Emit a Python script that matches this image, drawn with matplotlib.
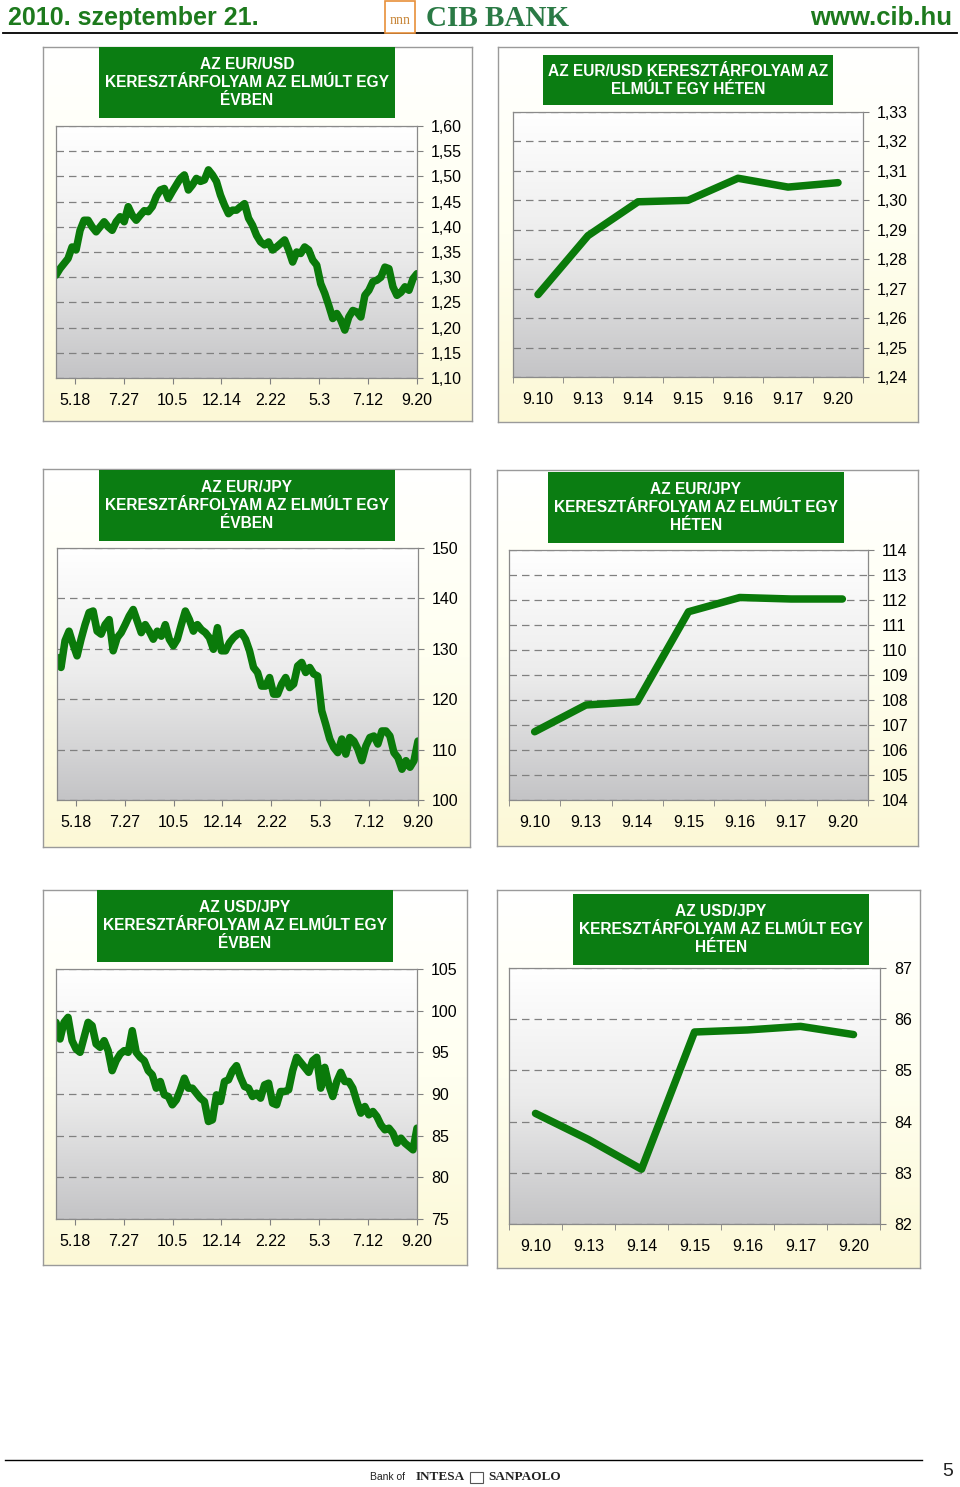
import numpy as np
import pandas as pd
import matplotlib
matplotlib.use("Agg")
import matplotlib.pyplot as plt
from matplotlib.patches import Rectangle
from matplotlib.colors import LinearSegmentedColormap

# ---------------- DATA ----------------
year_tick_dates = ["2009-05-18", "2009-07-27", "2009-10-05", "2009-12-14",
                   "2010-02-22", "2010-05-03", "2010-07-12", "2010-09-20"]
year_tick_labels = ["5.18", "7.27", "10.5", "12.14", "2.22", "5.3", "7.12", "9.20"]
year_start, year_end = "2009-04-21", "2010-09-20"

week_labels = ["9.10", "9.13", "9.14", "9.15", "9.16", "9.17", "9.20"]

eurusd_year = [1.304, 1.317, 1.327, 1.337, 1.360, 1.354, 1.393, 1.413, 1.413, 1.400,
               1.390, 1.400, 1.410, 1.400, 1.393, 1.410, 1.420, 1.410, 1.440, 1.423,
               1.413, 1.423, 1.432, 1.430, 1.440, 1.460, 1.473, 1.476, 1.456, 1.470,
               1.483, 1.496, 1.503, 1.473, 1.483, 1.496, 1.490, 1.493, 1.513, 1.503,
               1.490, 1.463, 1.443, 1.426, 1.433, 1.433, 1.440, 1.446, 1.417, 1.403,
               1.383, 1.370, 1.364, 1.370, 1.354, 1.360, 1.367, 1.374, 1.354, 1.330,
               1.350, 1.347, 1.360, 1.354, 1.334, 1.324, 1.287, 1.268, 1.244, 1.218,
               1.228, 1.215, 1.195, 1.221, 1.234, 1.231, 1.221, 1.264, 1.274, 1.291,
               1.294, 1.300, 1.320, 1.317, 1.281, 1.264, 1.270, 1.281, 1.274, 1.297,
               1.307]

eurjpy_year = [128.3, 126.3, 131.6, 133.5, 130.9, 128.6, 131.9, 134.8, 137.2, 137.5,
               133.5, 132.9, 134.8, 135.8, 129.6, 132.2, 133.2, 134.8, 136.5, 137.8,
               135.5, 133.2, 134.8, 133.5, 131.9, 133.5, 132.5, 134.8, 131.9, 130.6,
               131.9, 134.8, 137.5, 135.8, 133.5, 134.8, 133.8, 133.2, 132.2, 129.9,
               134.2, 129.6, 129.6, 131.2, 132.2, 132.9, 133.2, 131.9, 129.6, 126.3,
               125.3, 122.6, 122.6, 124.3, 121.0, 121.0, 123.0, 124.3, 122.3, 123.0,
               126.6, 127.3, 125.3, 126.3, 125.0, 124.6, 117.7, 115.0, 112.1, 110.4,
               109.4, 112.1, 109.1, 112.4, 111.7, 110.1, 107.8, 110.7, 112.4, 112.7,
               111.1, 113.7, 113.7, 112.7, 109.4, 108.4, 106.1, 107.8, 106.5, 107.8,
               111.7]

usdjpy_year = [98.6, 96.6, 98.6, 99.2, 96.4, 95.4, 95.0, 96.8, 98.6, 98.2,
               96.0, 95.6, 96.4, 95.2, 92.8, 94.0, 94.8, 95.2, 95.0, 97.6,
               95.0, 94.4, 94.0, 92.8, 92.3, 90.7, 91.5, 89.9, 89.7, 88.7,
               89.3, 90.5, 91.9, 90.7, 90.7, 90.1, 89.5, 89.1, 86.7, 86.9,
               89.9, 89.1, 91.5, 91.7, 92.8, 93.4, 92.0, 90.9, 90.7, 89.7,
               90.1, 89.5, 91.1, 91.3, 88.9, 88.7, 90.3, 90.3, 90.5, 92.8,
               94.4, 93.8, 93.2, 92.6, 94.0, 94.4, 90.7, 93.2, 91.1, 89.7,
               91.5, 92.6, 91.5, 91.5, 90.7, 89.1, 87.7, 88.5, 87.5, 87.9,
               87.3, 86.3, 85.7, 85.9, 85.3, 84.1, 84.7, 84.1, 83.7, 83.3,
               85.9]

eurusd_week = [1.268, 1.288, 1.2995, 1.300, 1.3075, 1.3045, 1.306]
eurjpy_week = [106.73, 107.8, 107.93, 111.53, 112.1, 112.04, 112.04]
usdjpy_week = [84.16, 83.65, 83.07, 85.75, 85.79, 85.86, 85.70]

eurusd_year_yticks = [1.10, 1.15, 1.20, 1.25, 1.30, 1.35, 1.40, 1.45, 1.50, 1.55, 1.60]
eurusd_week_yticks = [1.24, 1.25, 1.26, 1.27, 1.28, 1.29, 1.30, 1.31, 1.32, 1.33]
eurjpy_year_yticks = [100, 110, 120, 130, 140, 150]
eurjpy_week_yticks = [104, 105, 106, 107, 108, 109, 110, 111, 112, 113, 114]
usdjpy_year_yticks = [75, 80, 85, 90, 95, 100, 105]
usdjpy_week_yticks = [82, 83, 84, 85, 86, 87]

titles = [
    "AZ EUR/USD\nKERESZTÁRFOLYAM AZ ELMÚLT EGY\nÉVBEN",
    "AZ EUR/USD KERESZTÁRFOLYAM AZ\nELMÚLT EGY HÉTEN",
    "AZ EUR/JPY\nKERESZTÁRFOLYAM AZ ELMÚLT EGY\nÉVBEN",
    "AZ EUR/JPY\nKERESZTÁRFOLYAM AZ ELMÚLT EGY\nHÉTEN",
    "AZ USD/JPY\nKERESZTÁRFOLYAM AZ ELMÚLT EGY\nÉVBEN",
    "AZ USD/JPY\nKERESZTÁRFOLYAM AZ ELMÚLT EGY\nHÉTEN",
]

# ---------------- STYLE / LAYOUT ----------------
W, H = 960, 1487
GREEN = "#0a7a0a"
BOX_GREEN = "#0b7d12"
FONT = ["Liberation Sans", "DejaVu Sans"]
plt.rcParams["font.family"] = FONT

fig = plt.figure(figsize=(W / 100, H / 100), dpi=100)
fig.patch.set_facecolor("white")


def rect(x0, y0, x1, y1):
    return [x0 / W, 1 - y1 / H, (x1 - x0) / W, (y1 - y0) / H]


plot_cmap = LinearSegmentedColormap.from_list("pg", ["#ffffff", "#ececec", "#c4c4c6"])
frame_cmap = LinearSegmentedColormap.from_list("fy", ["#ffffff", "#fffff0", "#fcf8d6"])
grad = np.linspace(0, 1, 256).reshape(-1, 1)


def fmt_tick(v, comma):
    if comma:
        return f"{v:.2f}".replace(".", ",")
    return f"{v:g}"


def panel(frame, box, plot, title, kind, values, yticks, comma, lw):
    # frame with gradient
    fa = fig.add_axes(rect(*frame), zorder=0)
    fa.imshow(grad, extent=(0, 1, 0, 1), aspect="auto", cmap=frame_cmap, origin="upper")
    fa.set_xlim(0, 1); fa.set_ylim(0, 1)
    fa.set_xticks([]); fa.set_yticks([])
    for s in fa.spines.values():
        s.set_color("#9a9a9a"); s.set_linewidth(1.0)
    # title box
    bx0, by0, bx1, by1 = box
    fig.patches.append(Rectangle((bx0 / W, 1 - by1 / H), (bx1 - bx0) / W, (by1 - by0) / H,
                                 transform=fig.transFigure, facecolor=BOX_GREEN,
                                 edgecolor="none", zorder=5))
    fig.text((bx0 + bx1) / 2 / W, 1 - (by0 + by1) / 2 / H, title, ha="center", va="center",
             color="white", fontsize=11.2, fontweight="bold", linespacing=1.25, zorder=6)
    # plot background gradient
    ba = fig.add_axes(rect(*plot), zorder=1)
    ba.imshow(grad, extent=(0, 1, 0, 1), aspect="auto", cmap=plot_cmap, origin="upper")
    ba.axis("off")
    ax = fig.add_axes(rect(*plot), zorder=2)
    ax.set_facecolor("none")
    if kind == "year":
        x = pd.date_range(year_start, year_end, periods=len(values))
        ax.plot(x, values, color=GREEN, lw=lw, solid_joinstyle="round",
                solid_capstyle="round")
        ax.set_xlim(pd.Timestamp(year_start), pd.Timestamp(year_end))
        ax.set_xticks(pd.to_datetime(year_tick_dates))
        ax.set_xticklabels(year_tick_labels)
        ax.tick_params(axis="x", length=4, color="#808080", pad=7, labelsize=11.5)
    else:
        x = np.arange(len(values))
        ax.plot(x, values, color=GREEN, lw=lw, solid_joinstyle="round",
                solid_capstyle="round")
        ax.set_xlim(-0.5, len(values) - 0.5)
        ax.set_xticks(x)
        ax.set_xticklabels(week_labels)
        ax.set_xticks(np.arange(-0.5, len(values)), minor=True)
        ax.tick_params(axis="x", which="major", length=0, pad=11, labelsize=11.5)
        ax.tick_params(axis="x", which="minor", length=4, color="#808080")
    ax.set_ylim(yticks[0], yticks[-1])
    ax.set_yticks(yticks)
    ax.set_yticklabels([fmt_tick(v, comma) for v in yticks])
    ax.yaxis.tick_right()
    ax.tick_params(axis="y", length=4, color="#808080", pad=6, labelsize=11.5)
    ax.grid(axis="y", color="#808080", lw=0.9, linestyle=(0, (6, 4)))
    ax.set_axisbelow(True)
    for s in ax.spines.values():
        s.set_color("#8a8a8a"); s.set_linewidth(0.9)
    return ax


panel((43, 47, 472, 421), (99, 47, 395, 118), (56, 126, 417, 378), titles[0],
      "year", eurusd_year, eurusd_year_yticks, True, 5.4)
panel((498, 47, 918, 422), (543, 55, 833, 105), (513, 112, 863, 377), titles[1],
      "week", eurusd_week, eurusd_week_yticks, True, 5.4)
panel((43, 469, 470, 847), (99, 470, 395, 541), (57, 548, 418, 800), titles[2],
      "year", eurjpy_year, eurjpy_year_yticks, False, 5.4)
panel((497, 470, 918, 846), (548, 472, 844, 543), (509, 550, 868, 800), titles[3],
      "week", eurjpy_week, eurjpy_week_yticks, False, 5.4)
panel((43, 890, 467, 1265), (97, 890, 393, 962), (56, 969, 417, 1219), titles[4],
      "year", usdjpy_year, usdjpy_year_yticks, False, 5.4)
panel((497, 890, 920, 1268), (573, 894, 869, 965), (509, 968, 880, 1224), titles[5],
      "week", usdjpy_week, usdjpy_week_yticks, False, 5.4)

# ---------------- HEADER ----------------
HDR_GREEN = "#1d7a1d"
fig.text(8 / W, 1 - 18 / H, "2010. szeptember 21.", ha="left", va="center",
         color=HDR_GREEN, fontsize=18, fontweight="bold",
         family=["Liberation Sans Narrow", "Liberation Sans"])
fig.text(952 / W, 1 - 18 / H, "www.cib.hu", ha="right", va="center",
         color=HDR_GREEN, fontsize=18.5, fontweight="bold",
         family=["Liberation Sans Narrow", "Liberation Sans"])
fig.text(426 / W, 1 - 18 / H, "CIB BANK", ha="left", va="center",
         color="#2a7a45", fontsize=21, fontweight="bold",
         family=["Liberation Serif", "DejaVu Serif"])
fig.patches.append(Rectangle((385 / W, 1 - 33 / H), 30 / W, 32 / H,
                             transform=fig.transFigure, facecolor="white",
                             edgecolor="#e8903a", lw=1.2, zorder=5))
fig.text(400 / W, 1 - 20 / H, "nnn", ha="center", va="center", color="#c8873a",
         fontsize=10, family=["Liberation Serif"], zorder=6)
fig.add_artist(plt.Line2D([3 / W, 957 / W], [1 - 33 / H, 1 - 33 / H],
                          transform=fig.transFigure, color="black", lw=1.3))

# ---------------- FOOTER ----------------
fig.add_artist(plt.Line2D([5 / W, 922 / W], [1 - 1460 / H, 1 - 1460 / H],
                          transform=fig.transFigure, color="black", lw=1.0))
fig.text(370 / W, 1 - 1477 / H, "Bank of", ha="left", va="center", fontsize=7.5,
         color="#222222")
fig.text(416 / W, 1 - 1477 / H, "INTESA", ha="left", va="center", fontsize=9.5,
         fontweight="bold", color="#222222", family=["Liberation Serif"])
fig.patches.append(Rectangle((470 / W, 1 - 1483 / H), 13 / W, 11 / H,
                             transform=fig.transFigure, facecolor="white",
                             edgecolor="#555555", lw=0.8))
fig.text(488 / W, 1 - 1477 / H, "SANPAOLO", ha="left", va="center", fontsize=9.5,
         fontweight="bold", color="#222222", family=["Liberation Serif"])
fig.text(948 / W, 1 - 1471 / H, "5", ha="center", va="center", fontsize=14,
         color="#222222")

fig.savefig("out.png", dpi=100)
